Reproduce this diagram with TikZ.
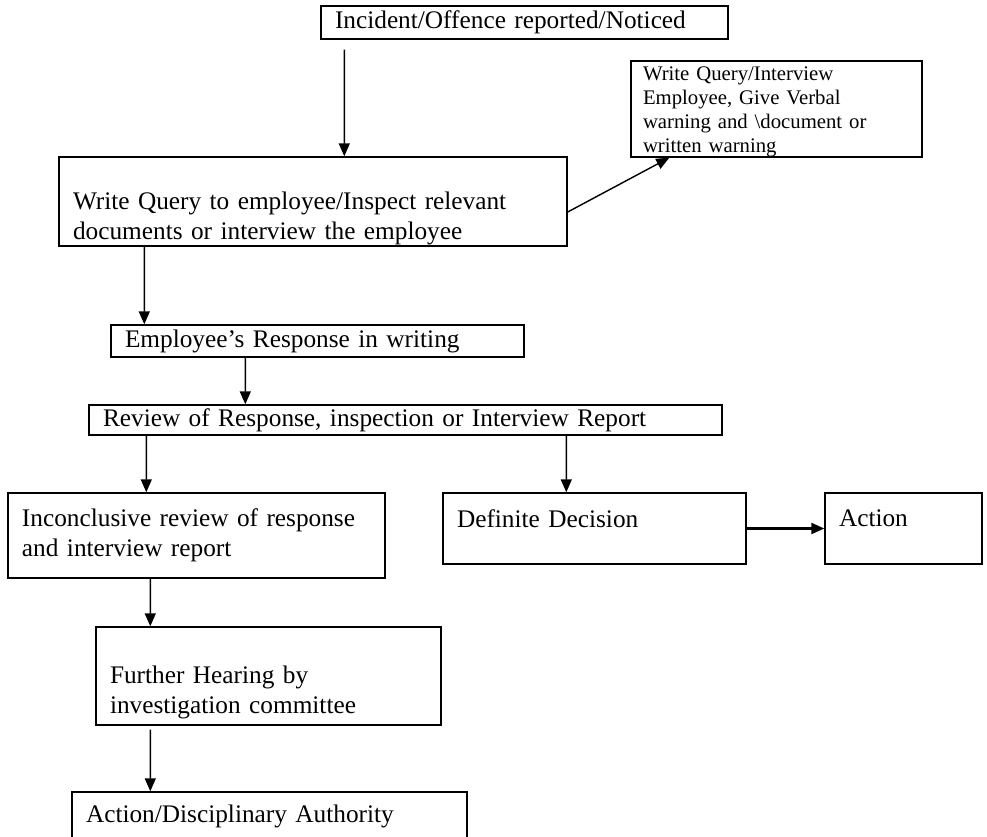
\documentclass[tikz,border=0pt]{standalone}
\usepackage{fontspec}
\setmainfont{Liberation Serif}
\usepackage{tikz}
\usetikzlibrary{arrows.meta}

\begin{document}
\begin{tikzpicture}[
    box/.style={draw, thick, align=left, inner xsep=0.28cm, inner ysep=0pt,
        font=\fontsize{14.4}{17}\selectfont},
    smallbox/.style={box, inner xsep=0.24cm, font=\fontsize{11.8}{13.6}\selectfont},
    arr/.style={thick, -{Triangle[length=0.26cm, width=0.22cm]}}
]
    \useasboundingbox (0,0) rectangle (19.74,-16.74);

    % Top of the chart
    \node[box, minimum width=8.14cm, minimum height=0.66cm, text width=7.58cm] (incident) at (10.49,-0.45) {Incident/Offence reported/Noticed};
    \node[box, minimum width=10.16cm, minimum height=1.78cm, text width=9.60cm] (write) at (6.26,-4.03) {\strut\\Write Query to employee/Inspect relevant\\documents or interview the employee};
    \node[smallbox, minimum width=5.82cm, minimum height=1.92cm, text width=5.34cm, text height=0.34cm, text depth=1.47cm] (query) at (15.53,-2.18) {Write Query/Interview\\Employee, Give Verbal\\warning and \textbackslash document or\\written warning};

    % Response and review
    \node[box, minimum width=8.26cm, minimum height=0.64cm, text width=7.70cm] (response) at (6.35,-6.82) {Employee’s Response in writing};
    \node[box, minimum width=12.66cm, minimum height=0.60cm, text width=12.10cm] (review) at (8.11,-8.40) {Review of Response, inspection or Interview Report};

    % Outcomes
    \node[box, minimum width=7.54cm, minimum height=1.70cm, text width=6.98cm] (inconclusive) at (3.93,-10.71) {Inconclusive review of response\\and interview report};
    \node[box, minimum width=6.06cm, minimum height=1.42cm, text width=5.50cm, text depth=0.41cm] (definite) at (11.89,-10.57) {Definite Decision};
    \node[box, minimum width=3.14cm, minimum height=1.42cm, text width=2.58cm, text depth=0.41cm] (action) at (18.07,-10.57) {Action};
    \node[box, minimum width=6.90cm, minimum height=1.96cm, text width=6.34cm] (hearing) at (5.37,-13.52) {\strut\\Further Hearing by\\investigation committee};
    \node[box, minimum width=7.90cm, minimum height=0.96cm, text width=7.34cm] (authority) at (5.39,-16.32) {Action/Disciplinary Authority};

    % Arrows
    \draw[arr, shorten <=0.2cm] ([xshift=0.48cm]incident.south west) -- ([xshift=5.72cm]write.north west);
    \draw[arr] ([yshift=-0.21cm]write.east) -- ([xshift=0.78cm]query.south west);
    \draw[arr] ([xshift=1.72cm]write.south west) -- ([xshift=0.68cm]response.north west);
    \draw[arr] ([xshift=2.70cm]response.south west) -- ([xshift=3.14cm]review.north west);
    \draw[arr] ([xshift=1.16cm]review.south west) -- ([xshift=2.78cm]inconclusive.north west);
    \draw[arr] ([xshift=9.56cm]review.south west) -- ([xshift=2.48cm]definite.north west);
    \draw[arr, line width=1.2pt] (definite.east) -- (action.west);
    \draw[arr] ([xshift=2.86cm]inconclusive.south west) -- ([xshift=1.10cm]hearing.north west);
    \draw[arr, shorten <=0.08cm] ([xshift=1.10cm]hearing.south west) -- ([xshift=1.58cm]authority.north west);
\end{tikzpicture}
\end{document}
